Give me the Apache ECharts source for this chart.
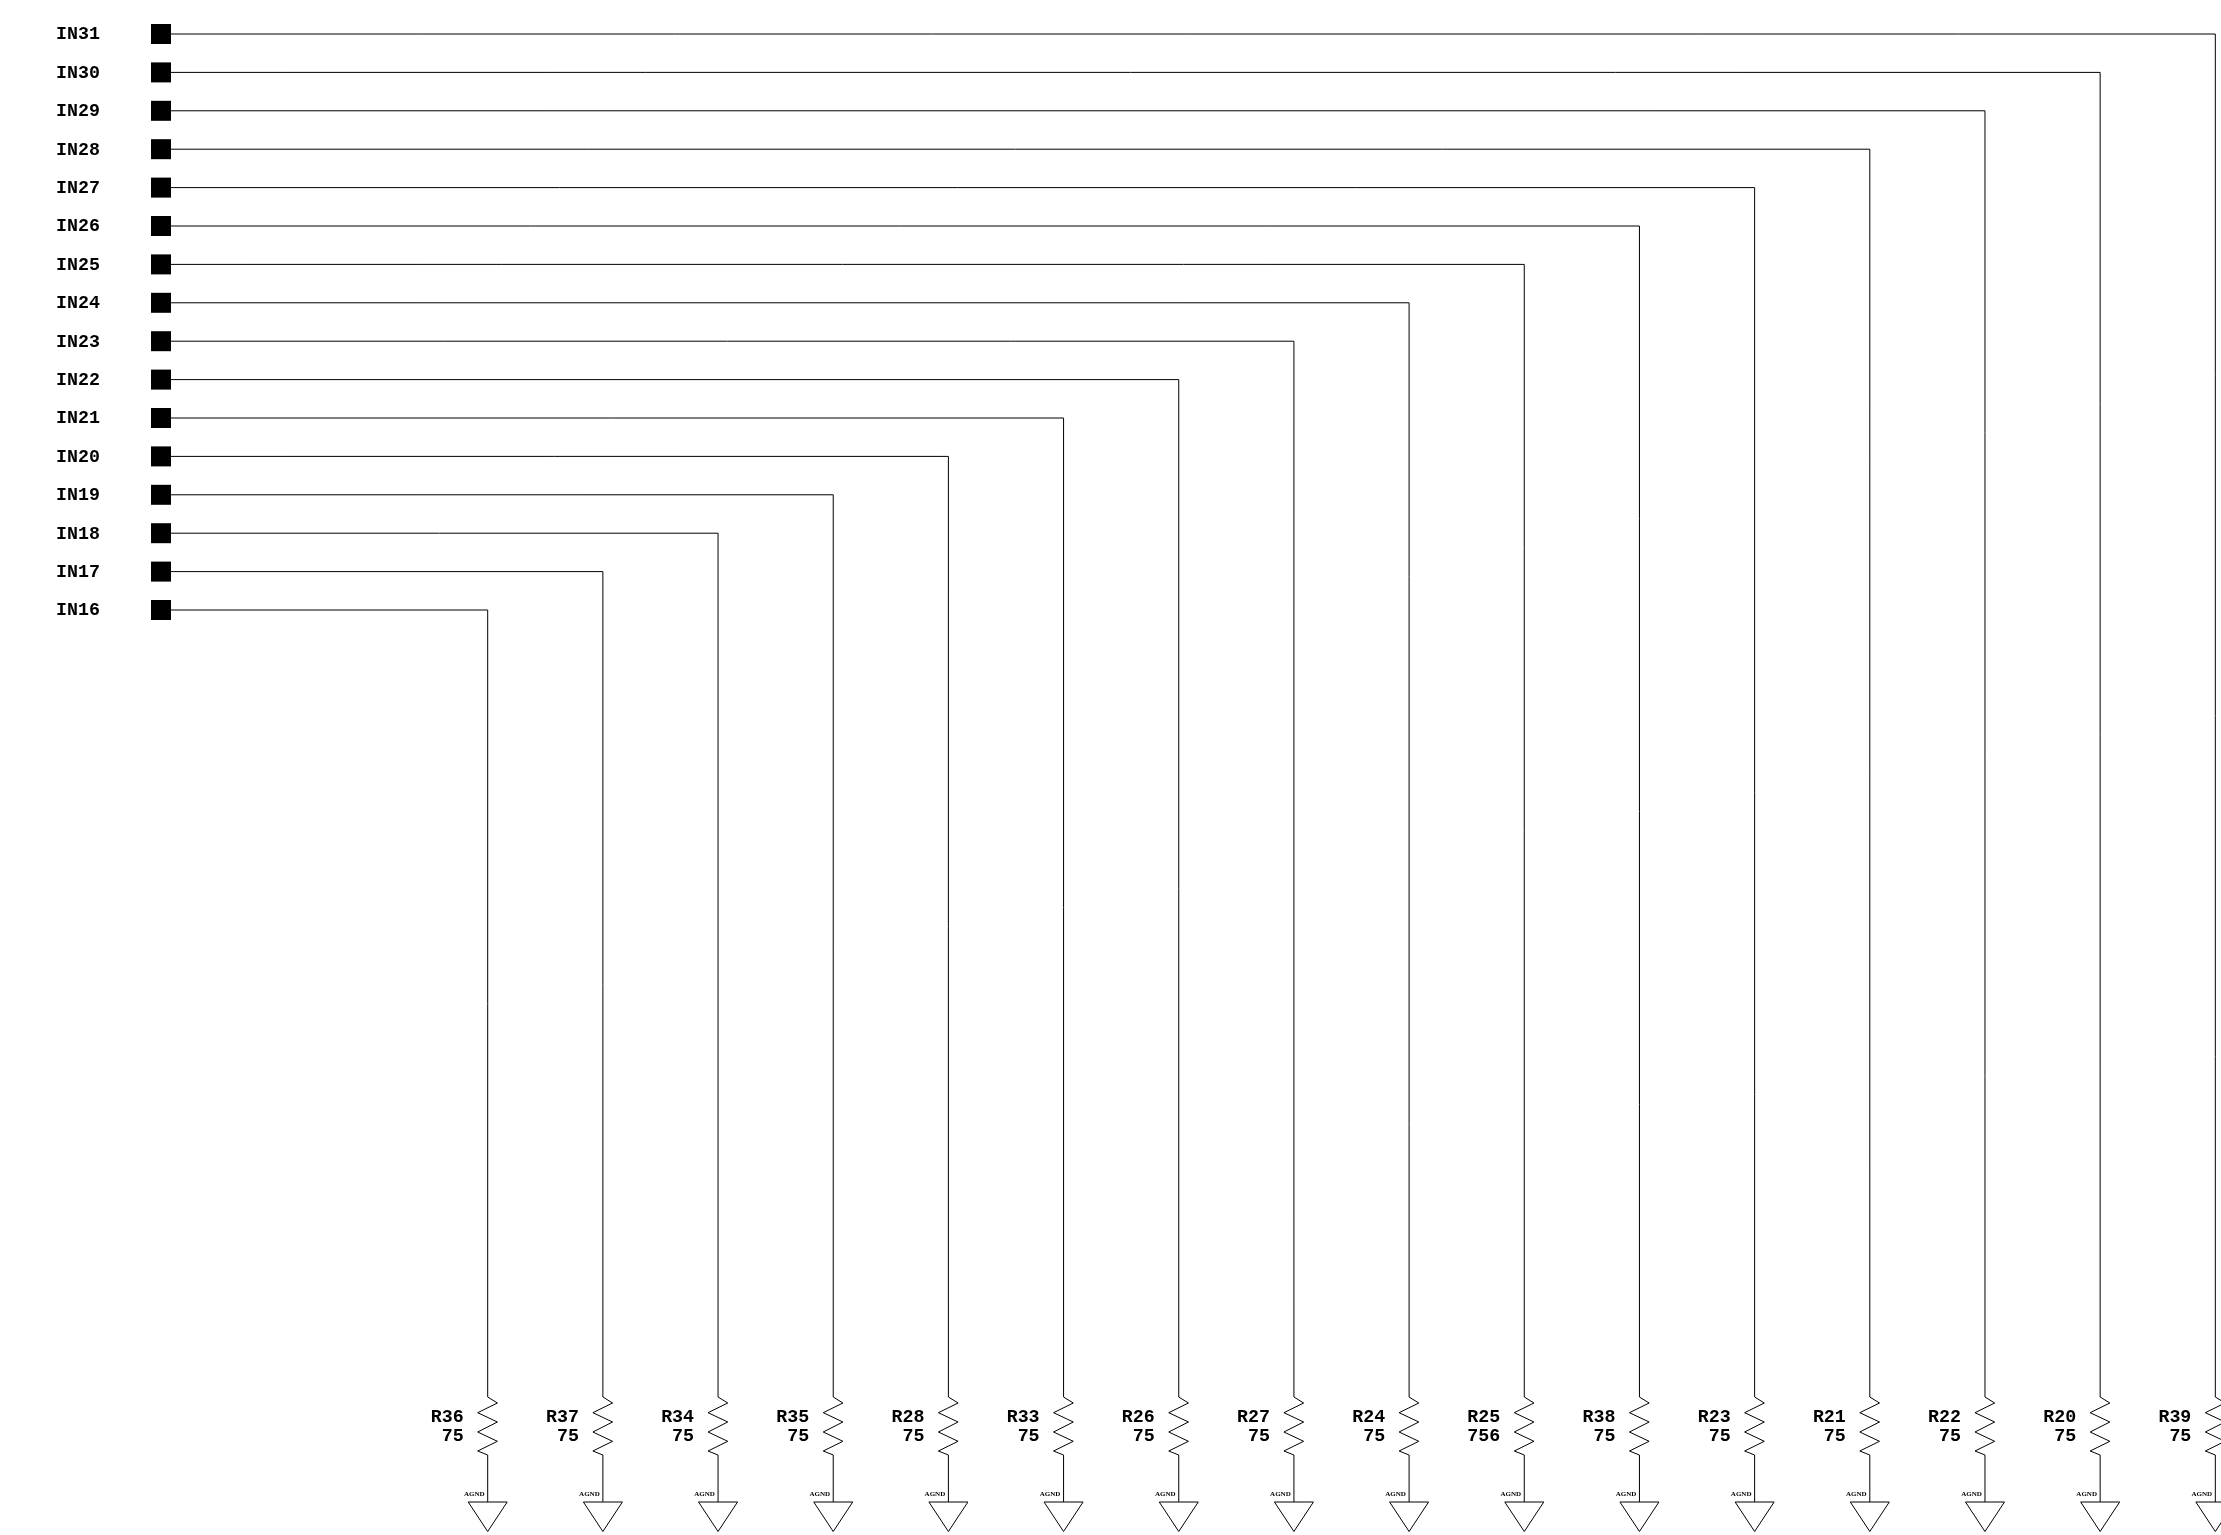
<!DOCTYPE html>
<html>
<head>
<meta charset="utf-8">
<style>html,body{margin:0;padding:0;background:#fff}#c{width:2221px;height:1535px}</style>
<script src="https://cdn.jsdelivr.net/npm/echarts@6/dist/echarts.min.js"></script>
</head>
<body>
<div id="c"></div>
<script>
// Schematic nets, top row first. Each net has a row and the resistor channel it runs to.
const inputNames = ['IN31','IN30','IN29','IN28','IN27','IN26','IN25','IN24','IN23','IN22','IN21','IN20','IN19','IN18','IN17','IN16'];
const netRows    = [0,1,2,3,4,5,6,7,8,9,10,11,12,13,14,15];
const netChannels= [15,14,13,12,11,10,9,8,7,6,5,4,3,2,1,0];
// Resistors, left to right (channel 0..15).
const resistorNames  = ['R36','R37','R34','R35','R28','R33','R26','R27','R24','R25','R38','R23','R21','R22','R20','R39'];
const resistorValues = ['75','75','75','75','75','75','75','75','75','756','75','75','75','75','75','75'];
const groundName = 'AGND';

// Axis layout: x is measured in channel pitches, y in row pitches.
const W = 2221, H = 1535;
const X0 = 487.7, XP = 115.175, Y0 = 34, YP = 38.4;
const pinChannel = (161 - X0) / XP;
const resistorTopRow = (1397 - Y0) / YP;

const zig = [[0,0],[9.7,6],[-10,15.7],[9.7,25],[-10,35],[9.7,44.3],[-10,54],[0,58]];
const BLACK = '#000';
const LINE = {stroke: BLACK, lineWidth: 1, fill: null};
const MONO = '"Liberation Mono", "Courier New", monospace';

const wireSeries = inputNames.map((n, i) => ({
  type: 'line', name: n, symbol: 'none', silent: true, z: 2,
  lineStyle: {color: BLACK, width: 1, opacity: 1, join: 'miter'},
  data: [[pinChannel, netRows[i]], [netChannels[i], netRows[i]], [netChannels[i], resistorTopRow]]
}));

const pinSeries = {
  type: 'scatter', symbol: 'rect', symbolSize: 20, silent: true, z: 3,
  itemStyle: {color: BLACK, opacity: 1},
  label: {
    show: true, position: 'left', distance: 51, offset: [0, 0.7], formatter: p => p.data[2],
    fontFamily: MONO, fontWeight: 'bold', fontSize: 18.3, color: BLACK
  },
  data: inputNames.map((n, i) => [pinChannel, netRows[i], n])
};

const resistorSeries = {
  type: 'custom', silent: true, z: 2, clip: false,
  encode: {x: 0, y: 1},
  data: resistorNames.map((n, i) => [i, resistorTopRow, n, resistorValues[i]]),
  renderItem(params, api) {
    const p = api.coord([api.value(0), api.value(1)]);
    const x = p[0], y = p[1];
    const i = params.dataIndex;
    const font = 'bold 18.3px ' + MONO;
    return {type: 'group', children: [
      {type: 'polyline', shape: {points: zig.map(d => [x + d[0], y + d[1]])}, style: LINE},
      {type: 'line', shape: {x1: x, y1: y + 58, x2: x, y2: y + 105}, style: LINE},
      {type: 'polygon', shape: {points: [[x - 19.5, y + 105], [x + 19.5, y + 105], [x, y + 134.5]]}, style: LINE},
      {type: 'text', x: x - 24, y: y + 20.3, style: {text: resistorNames[i], align: 'right', verticalAlign: 'middle', font, fill: BLACK}},
      {type: 'text', x: x - 24, y: y + 39.1, style: {text: resistorValues[i], align: 'right', verticalAlign: 'middle', font, fill: BLACK}},
      {type: 'text', x: x - 13.5, y: y + 97, style: {text: groundName, align: 'center', verticalAlign: 'middle', font: 'bold 7px "Liberation Serif"', fill: BLACK}}
    ]};
  }
};

const chart = echarts.init(document.getElementById('c'), null, {renderer: 'canvas', devicePixelRatio: 1});
chart.setOption({
  animation: false,
  backgroundColor: '#fff',
  grid: {left: 0, right: 0, top: 0, bottom: 0},
  xAxis: {type: 'value', show: false, min: -X0 / XP, max: (W - X0) / XP},
  yAxis: {type: 'value', show: false, inverse: true, min: -Y0 / YP, max: (H - Y0) / YP},
  series: [...wireSeries, pinSeries, resistorSeries]
});
</script>
</body>
</html>
